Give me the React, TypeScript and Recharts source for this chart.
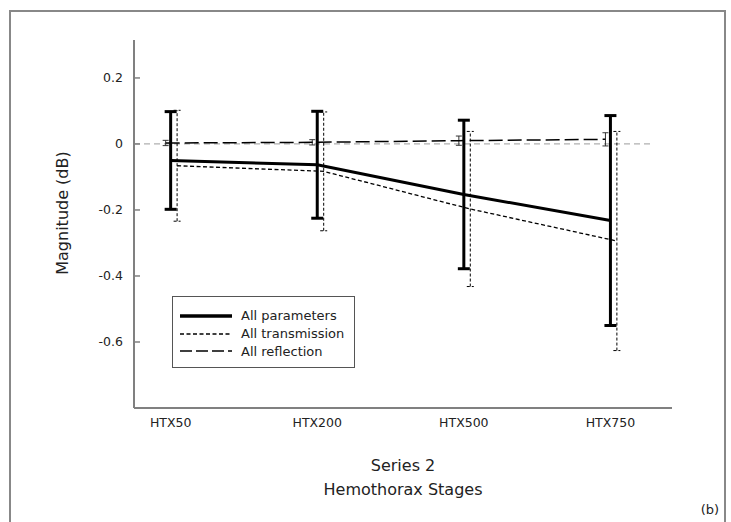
import React from 'react';
import {
  LineChart,
  Line,
  XAxis,
  YAxis,
  ErrorBar,
  ReferenceLine,
  Legend
} from 'recharts';

const stages = ['HTX50', 'HTX200', 'HTX500', 'HTX750'];

const paramMean = [-0.05, -0.063, -0.153, -0.232];
const paramErr = [0.148, 0.162, 0.225, 0.318];

const transMean = [-0.066, -0.083, -0.197, -0.294];
const transErr = [0.168, 0.18, 0.235, 0.332];

const reflMean = [0.003, 0.005, 0.01, 0.014];
const reflErr = [0.008, 0.008, 0.014, 0.02];

const yTicks = [-0.6, -0.4, -0.2, 0, 0.2];

// small horizontal dodge so the error bars don't sit on top of each other
const build = (mean: number[], err: number[], dodge: number) =>
  mean.map((v, i) => ({ x: i + dodge, value: v, err: err[i] }));

const paramData = build(paramMean, paramErr, 0);
const transData = build(transMean, transErr, 0.044);
const reflData = build(reflMean, reflErr, -0.034);

const FONT = '"DejaVu Sans", Verdana, sans-serif';
const AXIS = '#808080';

const legendItems = [
  { label: 'All parameters', width: 3.5, dash: undefined },
  { label: 'All transmission', width: 1.3, dash: '4 2.5' },
  { label: 'All reflection', width: 1.5, dash: '12 4' }
];

const renderLegend = () => (
  <div
    style={{
      border: '1px solid #555',
      background: '#fff',
      width: 183,
      height: 72,
      boxSizing: 'border-box',
      padding: '10px 0 0 7px',
      fontFamily: FONT,
      fontSize: 13,
      color: '#222'
    }}
  >
    {legendItems.map(item => (
      <div key={item.label} style={{ display: 'flex', alignItems: 'center', height: 17.7 }}>
        <svg width={60} height={10}>
          <line x1={0} y1={5} x2={52} y2={5} stroke="#000" strokeWidth={item.width} strokeDasharray={item.dash} />
        </svg>
        <span style={{ marginLeft: 1 }}>{item.label}</span>
      </div>
    ))}
  </div>
);

const Text = ({ x, y, size, rotate, children }: any) => (
  <div
    style={{
      position: 'absolute',
      left: x,
      top: y,
      transform: `translate(-50%, -50%)${rotate ? ' rotate(-90deg)' : ''}`,
      fontFamily: FONT,
      fontSize: size,
      color: '#222',
      whiteSpace: 'nowrap'
    }}
  >
    {children}
  </div>
);

export default function App() {
  return (
    <div style={{ position: 'absolute', left: 0, top: 0, width: 731, height: 522, background: '#fff', overflow: 'hidden' }}>
      <div
        style={{
          position: 'absolute',
          left: 9,
          top: 10,
          width: 717,
          height: 600,
          border: '2px solid #888',
          boxSizing: 'border-box'
        }}
      />
      <LineChart
        width={731}
        height={522}
        margin={{ top: 40, right: 59, bottom: 84, left: 74 }}
        style={{ position: 'absolute', left: 0, top: 0 }}
      >
        <XAxis
          type="number"
          dataKey="x"
          domain={[-0.25, 3.42]}
          ticks={[0, 1, 2, 3]}
          tickFormatter={(i: number) => stages[i] ?? ''}
          allowDataOverflow
          height={30}
          axisLine={{ stroke: AXIS, strokeWidth: 2 }}
          tickLine={false}
          tickMargin={4}
          tick={{ fontSize: 12.5, fill: '#222', fontFamily: FONT }}
        />
        <YAxis
          type="number"
          domain={[-0.8, 0.315]}
          ticks={yTicks}
          allowDataOverflow
          width={60}
          tickFormatter={(v: number) => (v === 0 ? '0' : v.toFixed(1))}
          axisLine={{ stroke: AXIS, strokeWidth: 2 }}
          tickLine={{ stroke: AXIS, strokeWidth: 1.5 }}
          tickSize={-6}
          tickMargin={17}
          tick={{ fontSize: 12.5, fill: '#222', fontFamily: FONT }}
        />
        <ReferenceLine
          segment={[{ x: -0.25, y: 0 }, { x: 3.27, y: 0 }]}
          stroke="#b0b0b0"
          strokeWidth={1.3}
          strokeDasharray="6 4"
        />
        <Line
          data={reflData}
          dataKey="value"
          stroke="#000"
          strokeWidth={1.5}
          strokeDasharray="14 5"
          dot={false}
          isAnimationActive={false}
        >
          <ErrorBar dataKey="err" width={3} stroke="#333" strokeWidth={1} direction="y" />
        </Line>
        <Line
          data={transData}
          dataKey="value"
          stroke="#000"
          strokeWidth={1.3}
          strokeDasharray="4 2.5"
          dot={false}
          isAnimationActive={false}
        >
          <ErrorBar dataKey="err" width={3.5} stroke="#000" strokeWidth={1} strokeDasharray="3 2" direction="y" />
        </Line>
        <Line
          data={paramData}
          dataKey="value"
          stroke="#000"
          strokeWidth={3}
          dot={false}
          isAnimationActive={false}
        >
          <ErrorBar dataKey="err" width={6} stroke="#000" strokeWidth={3} direction="y" />
        </Line>
        <Legend
          layout="vertical"
          align="center"
          verticalAlign="middle"
          content={renderLegend}
          wrapperStyle={{ left: 172, top: 296, width: 183 }}
        />
      </LineChart>
      <Text x={62} y={213} size={16} rotate>Magnitude (dB)</Text>
      <Text x={403} y={465} size={16}>Series 2</Text>
      <Text x={403} y={489} size={16}>Hemothorax Stages</Text>
      <Text x={710} y={509} size={13}>(b)</Text>
    </div>
  );
}
